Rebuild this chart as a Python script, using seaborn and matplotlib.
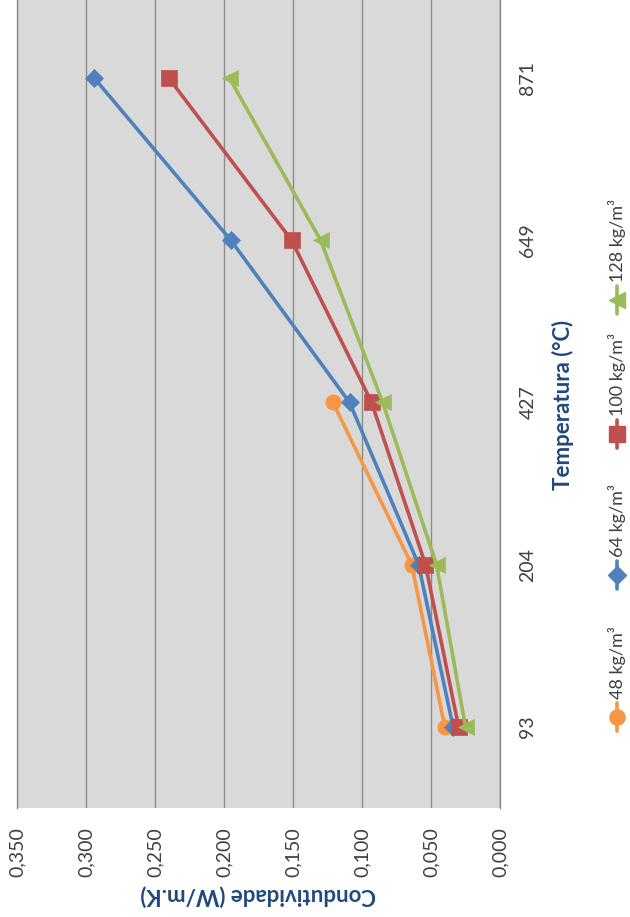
import numpy as np
import pandas as pd
import matplotlib
matplotlib.use("Agg")
import matplotlib.pyplot as plt
import seaborn as sns
from matplotlib.lines import Line2D
from matplotlib.ticker import FuncFormatter

# Temperature categories (°C) and thermal conductivity (W/m.K) per density
temperaturas = ["93", "204", "427", "649", "871"]
densidades = ["48 kg/m³", "64 kg/m³", "100 kg/m³", "128 kg/m³"]
k_48 = [0.040, 0.064, 0.121]
k_64 = [0.034, 0.059, 0.109, 0.195, 0.294]
k_100 = [0.030, 0.054, 0.093, 0.151, 0.240]
k_128 = [0.025, 0.046, 0.085, 0.130, 0.196]
eixo_k = [0.000, 0.050, 0.100, 0.150, 0.200, 0.250, 0.300, 0.350]

cores = ["#F79646", "#4F81BD", "#C0504D", "#9BBB59"]
marcadores = ["o", "D", "s", "<"]
tam_marc = [11, 9, 11, 11]

linhas = []
for nome, vals in zip(densidades, [k_48, k_64, k_100, k_128]):
    for i, v in enumerate(vals):
        linhas.append({"densidade": nome, "pos": i, "k": v})
df = pd.DataFrame(linhas)

sns.set_style("white")
plt.rcParams["font.family"] = ["Lato", "DejaVu Sans"]

W, H = 630, 917
fig = plt.figure(figsize=(W / 100, H / 100), dpi=100)
fig.patch.set_facecolor("white")

# plot area in pixel terms: x 17..500, y -3..808 (top-origin)
ax = fig.add_axes([17 / W, (H - 808) / H, 483 / W, 811 / H])
ax.set_facecolor("#D9D9D9")

for nome, cor, mk, ms in zip(densidades, cores, marcadores, tam_marc):
    sns.lineplot(data=df[df["densidade"] == nome], x="k", y="pos", orient="y",
                 color=cor, marker=mk, markersize=ms, markeredgecolor=cor,
                 markeredgewidth=0.5, linewidth=2.6, ax=ax, legend=False,
                 zorder=3)

ax.set_xlim(0.35, 0.0)
ax.set_ylim(-0.5, 4.5)
ax.set_xticks(eixo_k)
ax.xaxis.set_major_formatter(FuncFormatter(lambda v, p: f"{v:.3f}".replace(".", ",")))
ax.set_yticks(range(len(temperaturas)))
ax.set_yticklabels(temperaturas)
ax.yaxis.tick_right()

ax.xaxis.grid(True, color="#8C8C8C", linewidth=1.0)
ax.yaxis.grid(False)
ax.set_axisbelow(True)
for s in ["top", "bottom"]:
    ax.spines[s].set_visible(False)
ax.spines["left"].set_color("#8C8C8C")
ax.spines["left"].set_linewidth(1.0)
ax.spines["right"].set_color("#868686")
ax.spines["right"].set_linewidth(1.0)

ax.tick_params(axis="x", length=0, pad=14, labelsize=14, labelcolor="#404040",
               labelrotation=90)
ax.tick_params(axis="y", length=0, pad=14, labelsize=14, labelcolor="#404040",
               labelrotation=90)
for t in ax.get_yticklabels():
    t.set_va("center")
ax.set_xlabel("")
ax.set_ylabel("")

azul_titulo = "#1F497D"
fig.text(258 / W, 1 - 895 / H, "Condutividade (W/m.K)", rotation=180,
         ha="center", va="center", fontsize=16, fontweight="bold", color=azul_titulo)
fig.text(563 / W, 1 - 405 / H, "Temperatura (°C)", rotation=90,
         ha="center", va="center", fontsize=16, fontweight="bold", color=azul_titulo)

# legend drawn as a vertical column of symbols with rotated labels
leg_x = 617
leg_y = [717, 575, 434, 300]
for nome, cor, mk, ms, yc in zip(densidades, cores, marcadores, tam_marc, leg_y):
    ys = [yc + 14, yc, yc - 14]
    ln = Line2D([leg_x / W] * 3, [1 - y / H for y in ys], transform=fig.transFigure,
                color=cor, linewidth=2.6, marker=mk, markersize=ms,
                markeredgecolor=cor, markevery=[1])
    fig.add_artist(ln)
    fig.text(leg_x / W, 1 - (yc - 18) / H, nome, rotation=90, ha="center",
             va="bottom", fontsize=13, color="#404040")

fig.savefig("out.png", dpi=100)
